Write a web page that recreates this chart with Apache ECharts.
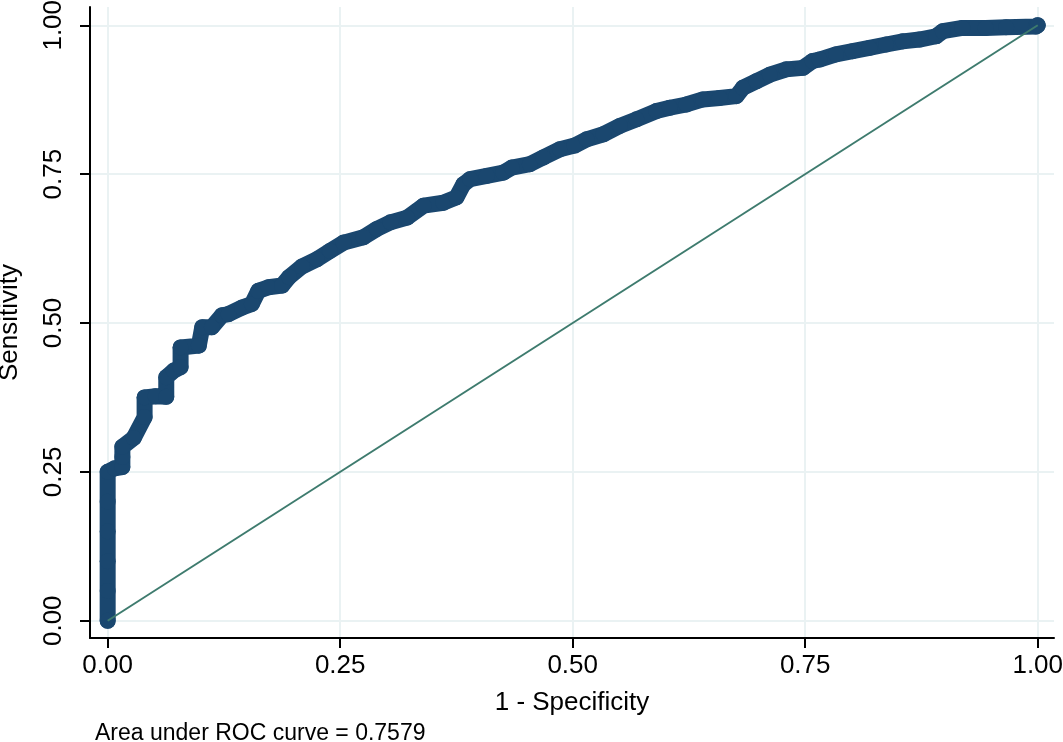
<!DOCTYPE html>
<html>
<head>
<meta charset="utf-8">
<script src="https://cdn.jsdelivr.net/npm/echarts@6/dist/echarts.min.js"></script>
<style>
html,body{margin:0;padding:0;background:#fff;}
#chart{width:1063px;height:742px;}
</style>
</head>
<body>
<div id="chart"></div>
<script>
// 1 - Specificity (false positive rate)
const fpr = [0,0,0,0,0,0,
  0.0075,0.0158,0.0158,0.0158,0.028,0.0397,0.0397,0.0515,0.063,0.063,0.071,0.0784,0.0784,0.098,
  0.1017,0.112,0.123,0.130,0.1446,0.155,0.162,0.173,0.1875,0.195,0.209,0.225,0.239,0.2537,0.275,
  0.2895,0.304,0.322,0.3396,0.361,0.375,0.3825,0.3897,0.4076,0.4254,0.4345,0.454,0.4684,0.4863,
  0.502,0.515,0.533,0.5507,0.5686,0.590,0.6044,0.6223,0.640,0.658,0.676,0.683,0.6975,0.712,
  0.7297,0.7475,0.758,0.7654,0.783,0.801,0.819,0.837,0.855,0.8728,0.8907,0.898,0.919,0.944,
  0.966,0.998,1];
// Sensitivity (true positive rate)
const tpr = [0,0.05,0.10,0.15,0.20,0.25,
  0.256,0.258,0.275,0.292,0.307,0.342,0.375,0.377,0.376,0.409,0.42,0.426,0.459,0.462,
  0.493,0.493,0.513,0.515,0.526,0.532,0.554,0.560,0.563,0.577,0.595,0.607,0.621,0.635,0.644,
  0.658,0.669,0.677,0.697,0.702,0.711,0.733,0.7415,0.747,0.7526,0.761,0.7667,0.778,0.7918,
  0.798,0.8085,0.817,0.831,0.842,0.856,0.8615,0.867,0.8755,0.878,0.881,0.895,0.906,0.917,
  0.926,0.9285,0.940,0.9425,0.951,0.9565,0.962,0.9677,0.973,0.976,0.9816,0.990,0.9955,0.9955,
  0.9966,0.998,1];
const refX = [0, 1];
const refY = [0, 1];
const tickValues = [0, 0.25, 0.5, 0.75, 1];
const xTitle = '1 - Specificity';
const yTitle = 'Sensitivity';
const aucLabel = 'Area under ROC curve = 0.7579';

const rocData = fpr.map((x, i) => [x, tpr[i]]);
const refData = refX.map((x, i) => [x, refY[i]]);

const FONT = 'Liberation Sans, Arial, sans-serif';
const chart = echarts.init(document.getElementById('chart'), null, {renderer: 'canvas'});
const axisCommon = {
  type: 'value',
  axisLine: {show: true, onZero: false, lineStyle: {color: '#000', width: 2}},
  axisTick: {show: true, inside: false, length: 10, lineStyle: {color: '#000', width: 2}, customValues: tickValues},
  splitLine: {show: true, lineStyle: {color: '#eaf2f3', width: 2}},
  nameLocation: 'middle',
  nameTextStyle: {fontFamily: FONT, fontSize: 26, color: '#000'}
};
chart.setOption({
  animation: false,
  backgroundColor: '#fff',
  grid: {left: 90, top: 7, right: 9, bottom: 104, containLabel: false, outerBoundsMode: 'none'},
  xAxis: Object.assign({}, axisCommon, {
    min: -0.019, max: 1.0175,
    name: xTitle, nameGap: 52,
    axisLabel: {customValues: tickValues, margin: 15, fontFamily: FONT, fontSize: 26, color: '#000',
      formatter: v => v.toFixed(2)}
  }),
  yAxis: Object.assign({}, axisCommon, {
    min: -0.029, max: 1.0307,
    name: yTitle, nameGap: 67, nameRotate: 90,
    axisLabel: {customValues: tickValues, rotate: 90, margin: 23, fontFamily: FONT, fontSize: 26, color: '#000',
      formatter: v => v.toFixed(2)}
  }),
  series: [
    {
      type: 'line', data: rocData, z: 2,
      symbol: 'circle', symbolSize: 16, showAllSymbol: true,
      itemStyle: {color: '#1a476f'},
      lineStyle: {color: '#1a476f', width: 16, cap: 'round', join: 'round'},
      silent: true
    },
    {
      type: 'line', data: refData, z: 3, symbol: 'none',
      lineStyle: {color: '#3e7b6e', width: 2},
      silent: true
    }
  ],
  graphic: [{
    type: 'text', left: 95, top: 722,
    style: {text: aucLabel, font: '23px ' + FONT, fill: '#000'}
  }]
});
</script>
</body>
</html>
